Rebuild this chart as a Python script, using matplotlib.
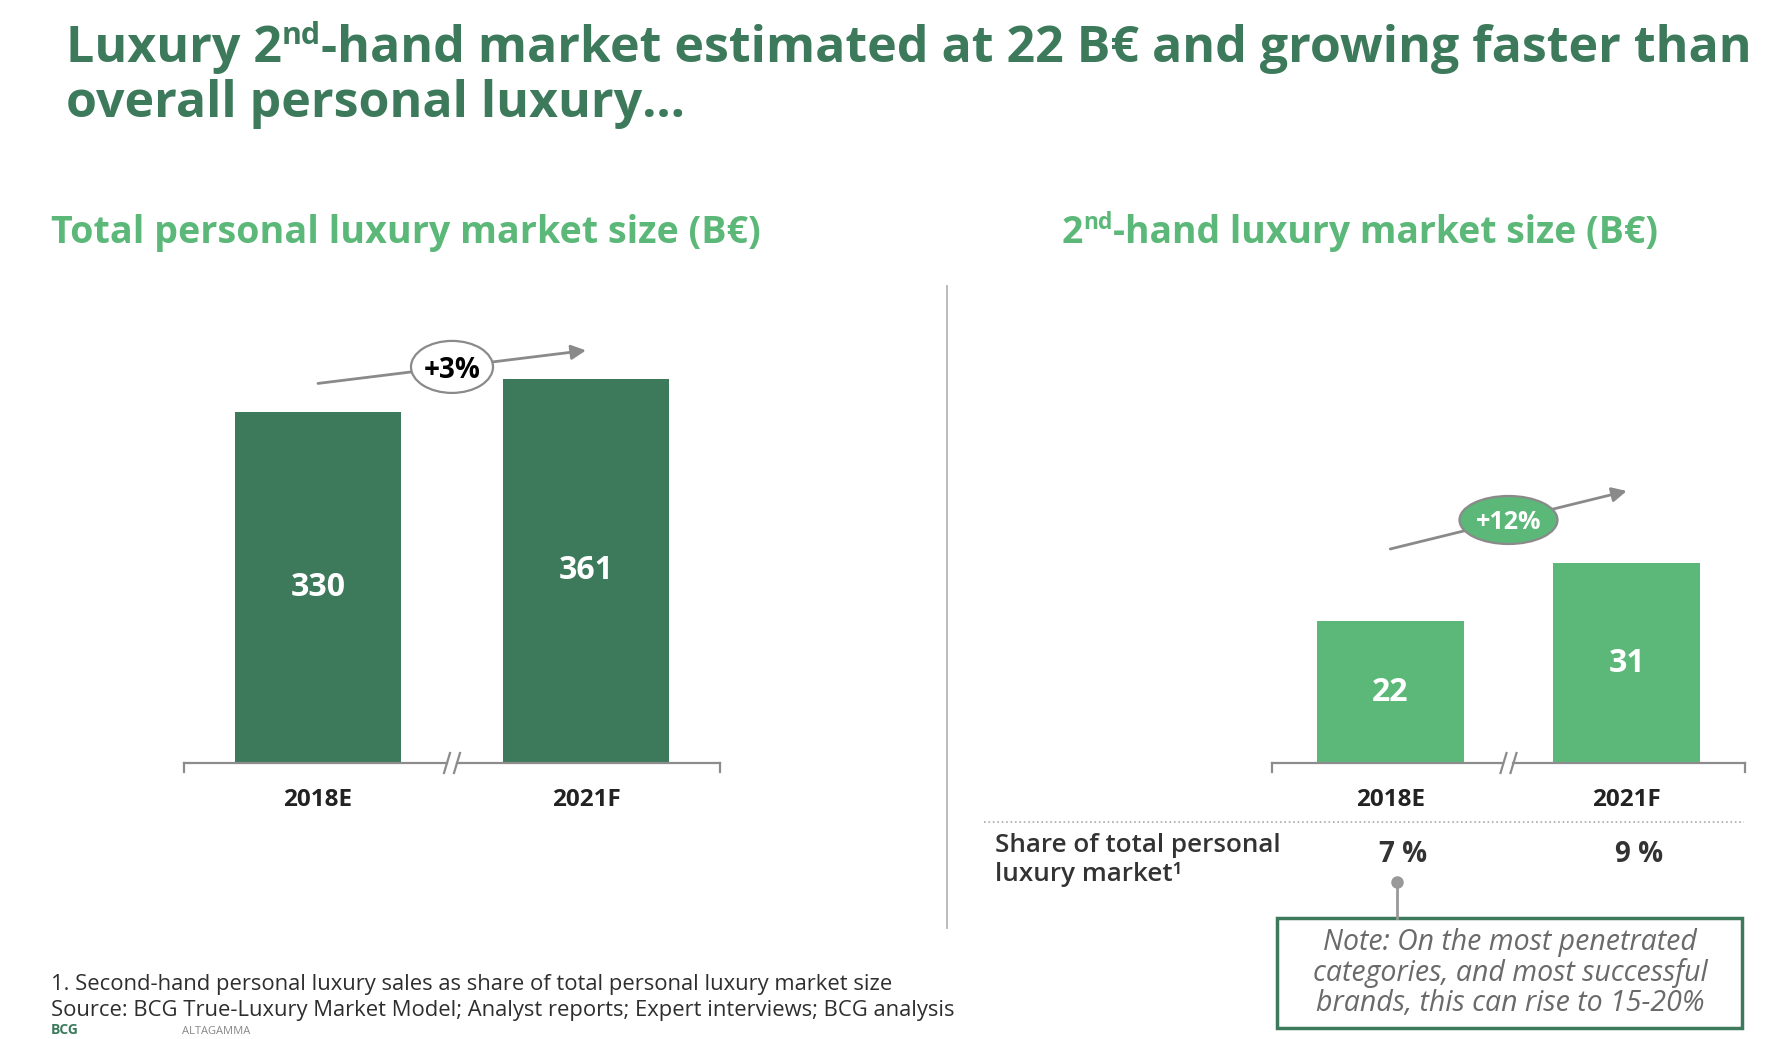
import matplotlib.pyplot as plt
import matplotlib.transforms as mtransforms
from matplotlib.lines import Line2D
from matplotlib.patches import Rectangle, Ellipse

# data
years = ["2018E", "2021F"]
total_market = [330, 361]
second_hand = [22, 31]
total_growth = "+3%"
second_growth = "+12%"
share_labels = ["7 %", "9 %"]

dark_green = "#3c7a5b"
light_green = "#5bb878"
grey_line = "#8a8a8a"
text_dark = "#222222"

plt.rcParams['font.family'] = ['Open Sans', 'DejaVu Sans']

W, H = 1781, 1039
fig = plt.figure(figsize=(W / 100, H / 100), dpi=100)
renderer = fig.canvas.get_renderer()
PX = 100 / 72  # pixels per point


def fx(x):
    return x / W


def fy(y):
    return 1 - y / H


def text_width(s, size, **kw):
    t = fig.text(0, 0, s, fontsize=size, **kw)
    w = t.get_window_extent(renderer).width
    t.remove()
    return w


def rich_text(x, y, parts, color, width=None, weight="bold"):
    # parts: (text, size, raise as share of size) drawn one after another on a baseline
    k = 1.0
    if width is not None:
        total = sum(text_width(s, size, weight=weight) for s, size, _ in parts)
        k = width / total
    for s, size, dy in parts:
        t = fig.text(fx(x), fy(y - dy * size * k * PX), s, fontsize=size * k,
                     color=color, weight=weight, va="baseline", ha="left")
        x += t.get_window_extent(renderer).width
    return k


def bar_panel(x0, x1, values, ymax, color, growth, offset, gsize, gstyle):
    top, bottom = 286, 763
    ax = fig.add_axes([fx(x0), fy(bottom), (x1 - x0) / W, (bottom - top) / H])
    ax.bar(range(len(values)), values, width=0.62, color=color, zorder=2)
    ax.set_xlim(-0.5, 1.5)
    ax.set_ylim(0, ymax)
    for s in ax.spines.values():
        s.set_visible(False)
    ax.set_yticks([])
    ax.set_xticks(range(len(years)), years, fontsize=17.5, weight="bold", color=text_dark)
    ax.tick_params(axis="x", length=0, pad=18)

    # baseline with end ticks and a break mark
    dxp = 2.0 / (x1 - x0)
    dyp = ymax / (bottom - top)
    kw = dict(color="#8c8c8c", lw=1.6, clip_on=False, zorder=3)
    gap = 5 * dxp
    ax.plot([-0.5, 0.5 - gap], [0, 0], **kw)
    ax.plot([0.5 + gap, 1.5], [0, 0], **kw)
    ax.plot([-0.5, -0.5], [0, -9 * dyp], **kw)
    ax.plot([1.5, 1.5], [0, -9 * dyp], **kw)
    for c in (0.5 - gap, 0.5 + gap):
        ax.plot([c - 3 * dxp, c + 3 * dxp], [-10 * dyp, 10 * dyp], **kw)

    for i, v in enumerate(values):
        ax.text(i, v / 2, str(v), ha="center", va="center", color="white",
                fontsize=23, weight="bold", zorder=4)

    y0, y1 = values[0] + offset, values[1] + offset
    ax.annotate("", xy=(1, y1), xytext=(0, y0),
                arrowprops=dict(arrowstyle="-|>", color=grey_line, lw=2,
                                mutation_scale=22, shrinkA=0, shrinkB=0),
                annotation_clip=False, zorder=5)
    fc, tc, ew, eh = gstyle
    ym = (y0 + y1) / 2
    cx, cy = ax.transData.transform((0.5, ym))
    ax.add_artist(Ellipse((cx, cy), ew, eh, transform=mtransforms.IdentityTransform(),
                          fc=fc, ec="#8a8a8a", lw=1.6, zorder=6, clip_on=False))
    ax.text(0.5, ym, growth, ha="center", va="center_baseline", fontsize=gsize,
            weight="bold", color=tc, zorder=7)
    return ax


# title
k = rich_text(66, 62, [("Luxury 2", 33, 0), ("nd", 20, 0.6),
                       ("-hand market estimated at 22 B€ and growing faster than", 33, 0)],
              dark_green, width=1687)
rich_text(66, 117, [("overall personal luxury…", 33 * k, 0)], dark_green)

# panel titles
rich_text(51, 243, [("Total personal luxury market size (B€)", 23, 0)], light_green,
          width=708)
rich_text(1062, 243, [("2", 23, 0), ("nd", 14, 0.6),
                      ("-hand luxury market size (B€)", 23, 0)], light_green, width=598)

bar_panel(184, 720, total_market, 448, dark_green, total_growth, 26.5, 20,
          ("white", "black", 82, 52))
bar_panel(1272, 1745, second_hand, 74, light_green, second_growth, 11.2, 18,
          (light_green, "white", 98, 48))

# divider
fig.add_artist(Line2D([fx(947), fx(947)], [fy(286), fy(928)], color="#b5b5b5", lw=1.3))

# share row
fig.add_artist(Line2D([fx(984), fx(1744)], [fy(822), fy(822)], color="#aaaaaa",
                      lw=1.2, ls=":"))
share_size = 17 * 286 / text_width("Share of total personal", 17, weight="semibold")
fig.text(fx(995), fy(860), "Share of total personal\nluxury market¹", fontsize=share_size,
         color="#333333", weight="semibold", va="center", ha="left", linespacing=1.2)
for xc, lab in zip([1403, 1639], share_labels):
    fig.text(fx(xc), fy(854), lab, fontsize=20, weight="bold", color="#333333",
             ha="center", va="center")

# note callout
fig.add_artist(Line2D([fx(1397), fx(1397)], [fy(882), fy(918)], color="#999999", lw=2))
fig.add_artist(Line2D([fx(1397)], [fy(882)], marker="o", ms=8, color="#999999"))
fig.add_artist(Rectangle((fx(1277), fy(1028)), (1742 - 1277) / W, (1028 - 918) / H,
                         transform=fig.transFigure, fill=False, ec=dark_green, lw=2.5))
note_size = 17 * 396 / text_width("categories, and most successful", 17, style="italic")
fig.text(fx(1510), fy(973),
         "Note: On the most penetrated\ncategories, and most successful\nbrands, this can rise to 15-20%",
         fontsize=note_size, style="italic", color="#6a6a6a", ha="center", va="center",
         linespacing=1.05)

# footnote and source
src = "Source: BCG True-Luxury Market Model; Analyst reports; Expert interviews; BCG analysis"
foot_size = 14 * 907 / text_width(src, 14)
fig.text(fx(51), fy(990),
         "1. Second-hand personal luxury sales as share of total personal luxury market size",
         fontsize=foot_size, color="#2e2e2e", va="baseline")
fig.text(fx(51), fy(1016), src, fontsize=foot_size, color="#2e2e2e", va="baseline")

# logos along the bottom edge
fig.text(fx(51), fy(1037), "BCG", fontsize=10, weight="bold", color=dark_green, va="bottom")
fig.text(fx(182), fy(1037), "ALTAGAMMA", fontsize=8, color="#888888", va="bottom")

fig.savefig("out.png", dpi=100)
